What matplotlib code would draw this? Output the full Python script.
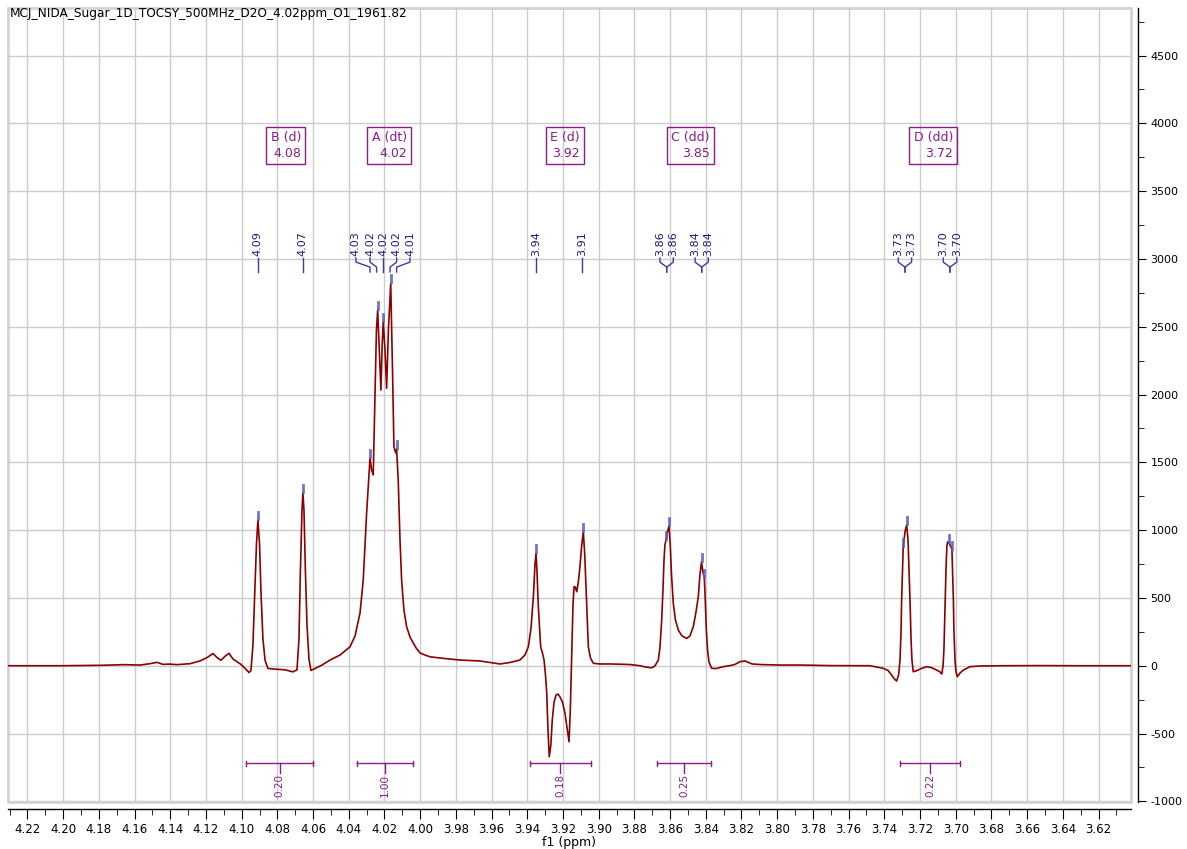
import numpy as np
import matplotlib
matplotlib.use("Agg")
import matplotlib.pyplot as plt
from matplotlib.patches import Rectangle
from matplotlib.ticker import MultipleLocator, FormatStrFormatter

plt.rcParams["axes.unicode_minus"] = False

title = "MCJ_NIDA_Sugar_1D_TOCSY_500MHz_D2O_4.02ppm_O1_1961.82"

# spectrum trace (ppm, intensity)
ppm = [4.2309, 4.2018, 4.1794, 4.1654, 4.1570, 4.1514, 4.1474, 4.1441, 4.1402, 4.1362,
       4.1290, 4.1234, 4.1194, 4.1161, 4.1133, 4.1116, 4.1093, 4.1071, 4.1049, 4.1026,
       4.1004, 4.0981, 4.0959, 4.0948, 4.0937, 4.0925, 4.0917, 4.0909, 4.0900, 4.0892,
       4.0881, 4.0869, 4.0853, 4.0813, 4.0757, 4.0713, 4.0690, 4.0679, 4.0671, 4.0662,
       4.0657, 4.0651, 4.0643, 4.0634, 4.0623, 4.0612, 4.0589, 4.0550, 4.0505, 4.0449,
       4.0393, 4.0365, 4.0337, 4.0319, 4.0300, 4.0281, 4.0272, 4.0263, 4.0253, 4.0245,
       4.0238, 4.0229, 4.0220, 4.0213, 4.0207, 4.0197, 4.0188, 4.0178, 4.0165, 4.0155,
       4.0147, 4.0137, 4.0132, 4.0123, 4.0113, 4.0104, 4.0091, 4.0076, 4.0057, 4.0039,
       4.0021, 4.0001, 3.9973, 3.9945, 3.9889, 3.9777, 3.9665, 3.9553, 3.9497, 3.9441,
       3.9413, 3.9394, 3.9379, 3.9366, 3.9357, 3.9351, 3.9346, 3.9338, 3.9325, 3.9315,
       3.9306, 3.9298, 3.9291, 3.9284, 3.9277, 3.9268, 3.9260, 3.9250, 3.9239, 3.9228,
       3.9217, 3.9203, 3.9189, 3.9178, 3.9166, 3.9159, 3.9151, 3.9144, 3.9138, 3.9131,
       3.9123, 3.9114, 3.9105, 3.9095, 3.9086, 3.9078, 3.9071, 3.9064, 3.9058, 3.9046,
       3.9030, 3.8993, 3.8937, 3.8825, 3.8769, 3.8735, 3.8703, 3.8685, 3.8666, 3.8657,
       3.8647, 3.8640, 3.8634, 3.8629, 3.8623, 3.8615, 3.8606, 3.8599, 3.8592, 3.8582,
       3.8570, 3.8554, 3.8533, 3.8507, 3.8489, 3.8470, 3.8455, 3.8442, 3.8433, 3.8424,
       3.8416, 3.8408, 3.8403, 3.8397, 3.8390, 3.8382, 3.8367, 3.8343, 3.8302, 3.8264,
       3.8236, 3.8208, 3.8180, 3.8141, 3.8096, 3.7984, 3.7872, 3.7704, 3.7536, 3.7480,
       3.7406, 3.7379, 3.7359, 3.7343, 3.7331, 3.7320, 3.7312, 3.7306, 3.7303, 3.7298,
       3.7294, 3.7284, 3.7275, 3.7267, 3.7262, 3.7256, 3.7250, 3.7245, 3.7238, 3.7219,
       3.7194, 3.7162, 3.7138, 3.7106, 3.7088, 3.7078, 3.7071, 3.7066, 3.7060, 3.7054,
       3.7049, 3.7045, 3.7037, 3.7032, 3.7026, 3.7021, 3.7013, 3.7010, 3.7004, 3.6998,
       3.6991, 3.6976, 3.6957, 3.6920, 3.6864, 3.6752, 3.6528, 3.6304, 3.6018]
intensity = [0, 0, 3, 8, 5, 15, 25, 10, 12, 8,
             15, 35, 60, 90, 55, 40, 70, 92, 50, 30,
             10, -20, -50, -35, 150, 600, 900, 1075, 900, 550,
             200, 40, -20, -25, -30, -45, -30, 200, 700, 1150,
             1274, 1150, 700, 300, 50, -35, -20, 5, 42, 79,
             140, 219, 389, 632, 1126, 1532, 1443, 1407, 1984, 2476,
             2623, 2328, 2033, 2365, 2537, 2328, 2046, 2476, 2820, 2181,
             1615, 1569, 1598, 1370, 927, 632, 411, 288, 212, 167,
             128, 94, 79, 66, 57, 42, 35, 13, 24, 42,
             79, 140, 278, 509, 743, 829, 706, 435, 140, 94,
             42, -69, -201, -474, -671, -585, -400, -268, -216, -209,
             -229, -268, -349, -452, -561, -327, 91, 448, 583, 580,
             546, 617, 730, 890, 988, 816, 583, 337, 140, 57,
             18, 13, 13, 9, 0, -10, -15, -2, 42, 131,
             337, 558, 780, 890, 927, 986, 1030, 890, 669, 460,
             337, 263, 219, 202, 219, 288, 396, 509, 669, 765,
             691, 647, 484, 263, 116, 27, -19, -21, -7, 1,
             10, 30, 35, 13, 9, 5, 5, 1, 0, 0,
             -19, -35, -69, -98, -113, -69, 42, 263, 484, 706,
             878, 988, 1038, 927, 730, 484, 189, 42, -44, -37,
             -21, -7, -13, -32, -46, -61, -2, 116, 411, 730,
             890, 914, 905, 890, 875, 853, 484, 263, 42, -46,
             -81, -54, -32, -7, -2, 0, 1, 0, 0]

# picked peaks: label text, label position, peak position
peak_text = ["4.09", "4.07", "4.03", "4.02", "4.02", "4.02", "4.01", "3.94", "3.91",
             "3.86", "3.86", "3.84", "3.84", "3.73", "3.73", "3.70", "3.70"]
peak_label_ppm = [4.0909, 4.0657, 4.0360, 4.0281, 4.0207, 4.0132, 4.0057, 3.9352, 3.9092,
                  3.8657, 3.8582, 3.8460, 3.8386, 3.7322, 3.7247, 3.7070, 3.6994]
peak_target_ppm = [4.0909, 4.0657, 4.0281, 4.0244, 4.0207, 4.0169, 4.0132, 3.9352, 3.9092,
                   3.8619, 3.8619, 3.8423, 3.8423, 3.7284, 3.7284, 3.7032, 3.7032]

# blue peak-top markers
mark_ppm = [4.0909, 4.0657, 4.0281, 4.0238, 4.0207, 4.0165, 4.0132, 3.9351, 3.9086,
            3.8623, 3.8606, 3.8424, 3.8408, 3.7294, 3.7275, 3.7037, 3.7021]
mark_top = [1075, 1274, 1532, 2623, 2537, 2820, 1598, 829, 988,
            927, 1030, 765, 647, 878, 1038, 905, 853]

# multiplets
mult_name = ["B (d)", "A (dt)", "E (d)", "C (dd)", "D (dd)"]
mult_shift = ["4.08", "4.02", "3.92", "3.85", "3.72"]
mult_ppm = [4.0753, 4.0174, 3.9190, 3.8486, 3.7126]

# integrals
int_from = [4.0976, 4.0356, 3.9385, 3.8671, 3.7312]
int_to = [4.0599, 4.0042, 3.9043, 3.8371, 3.6976]
int_value = ["0.20", "1.00", "0.18", "0.25", "0.22"]

W, H = 1187, 849
fig = plt.figure(figsize=(W / 100, H / 100), dpi=100)
ax = fig.add_axes([8 / W, 1 - 802 / H, (1131 - 8) / W, (802 - 8) / H])

grey = "#cccccc"
purple = "#8b1a8b"
navy = "#1a1a80"

ax.set_xlim(4.2309, 3.6018)
ax.set_ylim(-1005, 4851)
ax.xaxis.set_major_locator(MultipleLocator(0.02))
ax.xaxis.set_minor_locator(MultipleLocator(0.01))
ax.xaxis.set_major_formatter(FormatStrFormatter("%.2f"))
ax.yaxis.set_major_locator(MultipleLocator(500))
ax.yaxis.set_minor_locator(MultipleLocator(250))
ax.yaxis.tick_right()
ax.grid(True, which="major", color=grey, lw=1)
ax.set_axisbelow(True)

for s in ["top", "left"]:
    ax.spines[s].set_visible(False)
for s in ["bottom", "right"]:
    ax.spines[s].set_position(("outward", 5))
    ax.spines[s].set_color("black")
    ax.spines[s].set_linewidth(1)
ax.add_patch(Rectangle((0, 0), 1, 1, transform=ax.transAxes, fill=False,
                       ec="#d4d4d4", lw=2, clip_on=False, zorder=0.5))

ax.tick_params(axis="x", which="major", length=7, labelsize=8.5, pad=3)
ax.tick_params(axis="x", which="minor", length=4)
ax.tick_params(axis="y", which="major", length=6, labelsize=8, pad=3)
ax.tick_params(axis="y", which="minor", length=4)
ax.set_xlabel("f1 (ppm)", fontsize=9, labelpad=0)

ax.plot(ppm, intensity, color="#8b0000", lw=1.2, zorder=3)

# peak markers
for p, t in zip(mark_ppm, mark_top):
    ax.plot([p, p], [t + 8, t + 60], color="#5a5ac0", lw=2, zorder=4, alpha=0.85)

# peak labels with connectors
for txt, lp, tp in zip(peak_text, peak_label_ppm, peak_target_ppm):
    ax.plot([lp, lp, tp, tp], [3007, 2977, 2940, 2904], color="#3a3aa8", lw=1, zorder=4)
    ax.text(lp, 3022, txt, rotation=90, ha="center", va="bottom",
            fontsize=8, color=navy)

# multiplet boxes
for name, sh, p in zip(mult_name, mult_shift, mult_ppm):
    ax.text(p, 3837, name + "\n" + sh, ha="center", va="center", multialignment="right",
            fontsize=9, color=purple, linespacing=1.25,
            bbox=dict(boxstyle="square,pad=0.35", fc="none", ec=purple, lw=1))

# integrals
for a, b, v in zip(int_from, int_to, int_value):
    m = (a + b) / 2
    ax.plot([a, b], [-718, -718], color=purple, lw=1)
    ax.plot([a, a], [-700, -736], color=purple, lw=1)
    ax.plot([b, b], [-700, -736], color=purple, lw=1)
    ax.plot([m, m], [-718, -790], color=purple, lw=1)
    ax.text(m, -800, v, rotation=90, ha="center", va="top", fontsize=7.5, color=purple)

fig.text(10 / W, 1 - 7 / H, title, ha="left", va="top", fontsize=8.7)

fig.savefig("out.png", dpi=100)
